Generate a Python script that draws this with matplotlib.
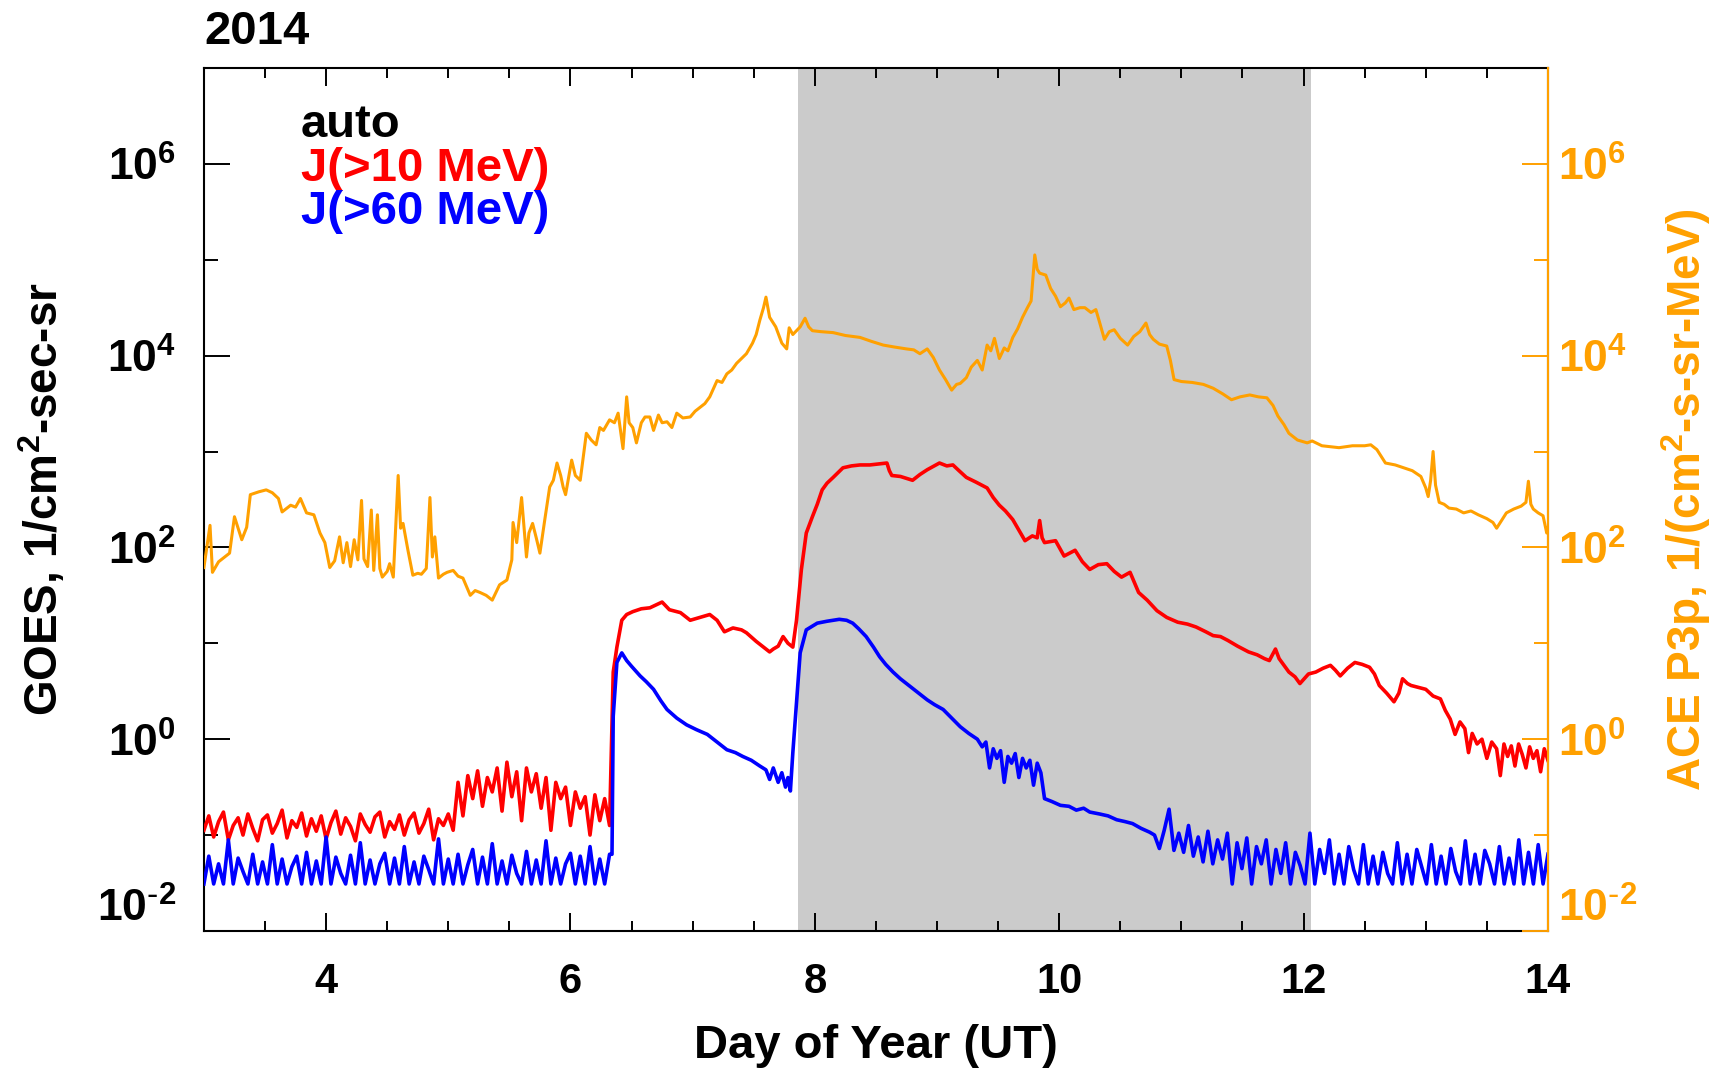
import numpy as np
import matplotlib
matplotlib.use('Agg')
import matplotlib.pyplot as plt
from matplotlib.ticker import FixedLocator, FixedFormatter, MultipleLocator, NullFormatter

plt.rcParams['font.family'] = ['Liberation Sans', 'DejaVu Sans']
plt.rcParams['mathtext.default'] = 'regular'

ORANGE = '#ffa000'

year = '2014'
shade_start, shade_end = 7.86, 12.06

# ACE P3p (right axis), log10 of flux
ace_day = [3.00, 3.05, 3.07, 3.12, 3.16, 3.21, 3.25, 3.31, 3.35, 3.38, 3.45, 3.51, 3.56, 3.61, 3.64,
           3.71, 3.75, 3.79, 3.84, 3.90, 3.95, 3.99, 4.03, 4.07, 4.11, 4.14, 4.17, 4.20, 4.23, 4.26,
           4.29, 4.31, 4.34, 4.37, 4.39, 4.42, 4.44, 4.46, 4.50, 4.52, 4.55, 4.59, 4.61, 4.63, 4.67,
           4.71, 4.75, 4.78, 4.82, 4.85, 4.87, 4.89, 4.92, 4.96, 4.99, 5.04, 5.08, 5.12, 5.18, 5.22,
           5.26, 5.31, 5.36, 5.42, 5.48, 5.52, 5.53, 5.56, 5.60, 5.64, 5.66, 5.69, 5.72, 5.75, 5.79,
           5.83, 5.86, 5.89, 5.92, 5.94, 5.96, 6.01, 6.04, 6.08, 6.13, 6.17, 6.21, 6.24, 6.27, 6.32,
           6.36, 6.39, 6.43, 6.46, 6.48, 6.51, 6.54, 6.58, 6.61, 6.65, 6.68, 6.72, 6.75, 6.79, 6.83,
           6.87, 6.92, 6.98, 7.02, 7.06, 7.10, 7.14, 7.20, 7.24, 7.28, 7.32, 7.36, 7.40, 7.44, 7.49,
           7.52, 7.55, 7.58, 7.60, 7.63, 7.68, 7.73, 7.77, 7.79, 7.82, 7.85, 7.88, 7.92, 7.95, 7.98,
           8.05, 8.15, 8.25, 8.37, 8.46, 8.56, 8.65, 8.75, 8.81, 8.86, 8.92, 8.97, 9.02, 9.07, 9.12,
           9.16, 9.19, 9.24, 9.28, 9.33, 9.37, 9.41, 9.44, 9.47, 9.51, 9.55, 9.58, 9.62, 9.66, 9.70,
           9.74, 9.77, 9.80, 9.82, 9.84, 9.89, 9.93, 9.97, 10.01, 10.05, 10.08, 10.12, 10.17, 10.21, 10.26,
           10.30, 10.33, 10.37, 10.41, 10.45, 10.50, 10.56, 10.61, 10.66, 10.71, 10.74, 10.77, 10.82, 10.88, 10.91,
           10.94, 11.00, 11.09, 11.18, 11.26, 11.34, 11.41, 11.48, 11.56, 11.63, 11.70, 11.75, 11.79, 11.84, 11.88,
           11.95, 12.03, 12.07, 12.15, 12.22, 12.29, 12.40, 12.50, 12.55, 12.60, 12.67, 12.75, 12.82, 12.89, 12.96,
           13.00, 13.02, 13.04, 13.06, 13.08, 13.11, 13.15, 13.19, 13.25, 13.31, 13.37, 13.43, 13.50, 13.55, 13.58,
           13.62, 13.66, 13.72, 13.78, 13.82, 13.84, 13.86, 13.88, 13.92, 13.96, 13.99, 14.00]
ace_log = [1.79, 2.23, 1.74, 1.85, 1.89, 1.94, 2.32, 2.08, 2.21, 2.55, 2.58, 2.60, 2.57, 2.51, 2.37,
           2.44, 2.42, 2.51, 2.36, 2.34, 2.15, 2.05, 1.79, 1.86, 2.11, 1.84, 2.05, 1.80, 2.08, 1.87,
           2.49, 1.88, 1.80, 2.39, 1.76, 2.34, 1.78, 1.69, 1.75, 1.83, 1.69, 2.75, 2.20, 2.25, 1.97,
           1.71, 1.73, 1.72, 1.78, 2.52, 1.90, 2.11, 1.68, 1.72, 1.74, 1.76, 1.70, 1.68, 1.50, 1.55,
           1.53, 1.50, 1.45, 1.61, 1.66, 1.87, 2.26, 2.05, 2.52, 1.90, 2.15, 2.25, 2.10, 1.94, 2.29,
           2.63, 2.70, 2.88, 2.75, 2.63, 2.55, 2.91, 2.75, 2.70, 3.19, 3.12, 3.07, 3.25, 3.22, 3.33,
           3.30, 3.40, 3.03, 3.57, 3.30, 3.25, 3.09, 3.30, 3.36, 3.36, 3.22, 3.38, 3.30, 3.31, 3.25,
           3.40, 3.35, 3.36, 3.42, 3.46, 3.50, 3.57, 3.74, 3.72, 3.81, 3.85, 3.92, 3.97, 4.02, 4.13,
           4.22, 4.37, 4.50, 4.61, 4.40, 4.30, 4.13, 4.07, 4.29, 4.22, 4.26, 4.30, 4.39, 4.30, 4.26,
           4.25, 4.24, 4.21, 4.19, 4.15, 4.11, 4.09, 4.07, 4.06, 4.02, 4.07, 3.98, 3.85, 3.75, 3.64,
           3.70, 3.71, 3.77, 3.88, 3.95, 3.85, 4.11, 4.05, 4.18, 3.97, 4.08, 4.05, 4.19, 4.28, 4.40,
           4.50, 4.57, 5.05, 4.90, 4.86, 4.84, 4.70, 4.62, 4.51, 4.55, 4.60, 4.48, 4.50, 4.50, 4.45,
           4.48, 4.35, 4.17, 4.25, 4.27, 4.18, 4.11, 4.20, 4.25, 4.34, 4.22, 4.17, 4.12, 4.10, 3.95,
           3.75, 3.73, 3.72, 3.70, 3.66, 3.60, 3.54, 3.57, 3.59, 3.57, 3.56, 3.48, 3.37, 3.28, 3.19,
           3.12, 3.09, 3.11, 3.06, 3.05, 3.04, 3.06, 3.06, 3.07, 3.02, 2.88, 2.86, 2.83, 2.80, 2.74,
           2.62, 2.53, 2.70, 3.00, 2.65, 2.47, 2.45, 2.41, 2.40, 2.36, 2.38, 2.34, 2.30, 2.26, 2.20,
           2.28, 2.36, 2.40, 2.43, 2.47, 2.69, 2.45, 2.40, 2.36, 2.33, 2.15, 2.20]

# GOES J(>10 MeV), log10 of flux
j10_quiet = [-0.95, -0.80, -1.02, -0.86, -0.76, -1.05, -0.90, -0.82, -1.00, -0.78, -0.93, -1.06, -0.84,
             -0.79, -0.98, -0.88, -0.74, -1.03, -0.85, -0.92, -0.77, -1.01, -0.83, -0.96, -0.80, -1.04,
             -0.87, -0.75, -0.99, -0.82, -0.91, -1.06, -0.78, -0.89, -0.97, -0.81, -0.76, -1.02, -0.86,
             -0.94, -0.79, -1.00, -0.84, -0.77, -0.98, -0.88, -0.73, -1.05, -0.83, -0.90, -0.78, -0.95]
j10_hump = [-0.45, -0.80, -0.38, -0.62, -0.33, -0.70, -0.40, -0.55, -0.30, -0.75, -0.24, -0.60, -0.34,
            -0.85, -0.30, -0.55, -0.36, -0.72, -0.40, -0.95, -0.45, -0.62, -0.50, -0.90, -0.55, -0.72,
            -0.60, -1.00, -0.58, -0.85, -0.62, -0.90]
j10_day = [6.35, 6.38, 6.42, 6.46, 6.51, 6.58, 6.65, 6.70, 6.75, 6.81, 6.90, 6.98, 7.06, 7.14, 7.20,
           7.26, 7.33, 7.40, 7.44, 7.52, 7.58, 7.63, 7.66, 7.70, 7.74, 7.78, 7.82, 7.85, 7.89, 7.93,
           7.98, 8.02, 8.06, 8.10, 8.15, 8.23, 8.30, 8.37, 8.45, 8.52, 8.59, 8.61, 8.63, 8.70, 8.80,
           8.86, 8.92, 9.02, 9.08, 9.13, 9.18, 9.24, 9.32, 9.41, 9.46, 9.51, 9.56, 9.62, 9.67, 9.72,
           9.78, 9.82, 9.84, 9.86, 9.88, 9.97, 10.04, 10.13, 10.19, 10.25, 10.32, 10.39, 10.45, 10.51, 10.58,
           10.65, 10.72, 10.80, 10.88, 10.97, 11.05, 11.12, 11.20, 11.26, 11.32, 11.38, 11.46, 11.55, 11.62, 11.68,
           11.72, 11.77, 11.80, 11.84, 11.88, 11.93, 11.97, 12.04, 12.10, 12.16, 12.22, 12.26, 12.30, 12.36, 12.42,
           12.48, 12.54, 12.58, 12.62, 12.68, 12.74, 12.78, 12.81, 12.85, 12.88, 12.94, 13.00, 13.06, 13.12, 13.16,
           13.20, 13.24, 13.28, 13.32, 13.35, 13.38, 13.42, 13.46, 13.50, 13.54, 13.58, 13.61, 13.64, 13.67, 13.70,
           13.73, 13.76, 13.79, 13.82, 13.85, 13.88, 13.91, 13.94, 13.97, 14.00]
j10_log = [0.70, 0.96, 1.24, 1.30, 1.33, 1.36, 1.37, 1.40, 1.43, 1.35, 1.32, 1.24, 1.27, 1.30, 1.24,
           1.12, 1.16, 1.14, 1.11, 1.02, 0.96, 0.91, 0.94, 0.97, 1.07, 1.00, 0.96, 1.24, 1.77, 2.15,
           2.32, 2.45, 2.60, 2.67, 2.73, 2.83, 2.85, 2.86, 2.86, 2.87, 2.88, 2.80, 2.75, 2.74, 2.70,
           2.76, 2.81, 2.88, 2.85, 2.86, 2.80, 2.73, 2.68, 2.62, 2.52, 2.44, 2.38, 2.29, 2.18, 2.07,
           2.12, 2.10, 2.28, 2.10, 2.05, 2.07, 1.91, 1.97, 1.85, 1.77, 1.82, 1.83, 1.75, 1.69, 1.74,
           1.53, 1.45, 1.34, 1.27, 1.22, 1.20, 1.17, 1.12, 1.08, 1.07, 1.03, 0.97, 0.91, 0.88, 0.84,
           0.82, 0.94, 0.84, 0.77, 0.70, 0.65, 0.58, 0.68, 0.70, 0.74, 0.77, 0.72, 0.66, 0.74, 0.80,
           0.78, 0.75, 0.68, 0.56, 0.48, 0.39, 0.48, 0.63, 0.58, 0.56, 0.54, 0.52, 0.45, 0.42, 0.30,
           0.21, 0.05, 0.18, 0.11, -0.14, 0.06, -0.05, 0.00, -0.20, -0.03, -0.10, -0.38, -0.05, -0.18, -0.07,
           -0.28, -0.05, -0.16, -0.30, -0.08, -0.20, -0.12, -0.34, -0.10, -0.22]

# GOES J(>60 MeV), log10 of flux
j60_quiet = [-1.51, -1.22, -1.51, -1.30, -1.51, -1.05, -1.51, -1.24, -1.38, -1.51, -1.20, -1.51, -1.28, -1.51,
             -1.10, -1.51, -1.25, -1.51, -1.33, -1.22, -1.51, -1.18, -1.51, -1.27, -1.51, -1.02, -1.51, -1.23,
             -1.40, -1.51, -1.21, -1.51, -1.08, -1.51, -1.26, -1.51, -1.30, -1.19, -1.51, -1.24, -1.51, -1.12,
             -1.51, -1.28, -1.51, -1.22, -1.36, -1.51, -1.04, -1.51, -1.25, -1.51, -1.20, -1.51, -1.31, -1.15,
             -1.51, -1.23, -1.51, -1.09, -1.51, -1.27, -1.51, -1.21, -1.40, -1.51, -1.17, -1.51, -1.26, -1.51,
             -1.06, -1.51, -1.24, -1.51, -1.30, -1.19, -1.51, -1.22, -1.51, -1.12, -1.51, -1.25, -1.51, -1.20]
j60_day = [6.34, 6.35, 6.38, 6.42, 6.46, 6.50, 6.57, 6.62, 6.68, 6.74, 6.79, 6.87, 6.95, 7.03, 7.12,
           7.20, 7.28, 7.35, 7.41, 7.48, 7.55, 7.60, 7.63, 7.66, 7.70, 7.73, 7.76, 7.78, 7.80, 7.82,
           7.85, 7.88, 7.93, 8.02, 8.10, 8.20, 8.26, 8.31, 8.36, 8.42, 8.48, 8.53, 8.58, 8.64, 8.70,
           8.78, 8.85, 8.92, 8.98, 9.05, 9.12, 9.19, 9.26, 9.33, 9.37, 9.40, 9.43, 9.46, 9.49, 9.52,
           9.55, 9.58, 9.61, 9.64, 9.67, 9.70, 9.73, 9.76, 9.79, 9.82, 9.85, 9.88, 9.94, 10.01, 10.08,
           10.14, 10.20, 10.25, 10.33, 10.40, 10.47, 10.54, 10.60, 10.67, 10.74]
j60_log = [-1.20, 0.24, 0.80, 0.90, 0.82, 0.76, 0.66, 0.60, 0.52, 0.40, 0.31, 0.22, 0.15, 0.10, 0.05,
           -0.03, -0.11, -0.14, -0.18, -0.22, -0.28, -0.32, -0.42, -0.30, -0.45, -0.35, -0.50, -0.40, -0.54, -0.14,
           0.38, 0.90, 1.14, 1.21, 1.23, 1.25, 1.24, 1.21, 1.15, 1.07, 0.96, 0.86, 0.78, 0.70, 0.63,
           0.55, 0.48, 0.41, 0.36, 0.31, 0.22, 0.13, 0.06, 0.00, -0.08, -0.03, -0.30, -0.10, -0.20, -0.12,
           -0.45, -0.18, -0.25, -0.15, -0.40, -0.20, -0.30, -0.22, -0.48, -0.25, -0.35, -0.62, -0.65, -0.69, -0.70,
           -0.74, -0.72, -0.76, -0.78, -0.80, -0.84, -0.86, -0.88, -0.93, -0.97]
j60_late = [-1.00, -1.14, -0.95, -0.73, -1.16, -0.98, -1.18, -0.90, -1.22, -1.02, -1.28, -0.96, -1.30, -1.05,
            -1.25, -0.98, -1.51, -1.08, -1.35, -1.03, -1.51, -1.12, -1.30, -1.05, -1.51, -1.15, -1.40, -1.08,
            -1.51, -1.18, -1.32, -1.51, -0.98, -1.51, -1.15, -1.40, -1.05, -1.51, -1.20, -1.51, -1.12, -1.36,
            -1.51, -1.10, -1.51, -1.22, -1.51, -1.18, -1.40, -1.51, -1.08, -1.51, -1.20, -1.51, -1.15, -1.33,
            -1.51, -1.10, -1.51, -1.22, -1.51, -1.14, -1.38, -1.51, -1.06, -1.51, -1.20, -1.51, -1.16, -1.30,
            -1.51, -1.12, -1.51, -1.24, -1.51, -1.05, -1.51, -1.18, -1.51, -1.10, -1.51, -1.20]

# assemble time series
ace_t = np.array(ace_day)
ace_v = 10 ** np.array(ace_log)

j10_t = np.concatenate([np.linspace(3.00, 5.04, len(j10_quiet)),
                        np.linspace(5.08, 6.32, len(j10_hump)), j10_day])
j10_v = 10 ** np.concatenate([j10_quiet, j10_hump, j10_log])

j60_t = np.concatenate([np.linspace(3.00, 6.32, len(j60_quiet)), j60_day,
                        np.linspace(10.78, 14.00, len(j60_late))])
j60_v = 10 ** np.concatenate([j60_quiet, j60_log, j60_late])

fig = plt.figure(figsize=(17.28, 10.77), dpi=100)
ax = fig.add_axes([0.118, 0.1356, 0.7778, 0.8013])

ax.axvspan(shade_start, shade_end, color='#cbcbcb', lw=0, zorder=0)
ax.plot(j10_t, j10_v, color='#ff0000', lw=2.6, zorder=3)
ax.plot(j60_t, j60_v, color='#0000ff', lw=2.6, zorder=4)

ylo, yhi = 1e-2, 1e7
major_y = [1e-2, 1e0, 1e2, 1e4, 1e6]
minor_y = [1e-1, 1e1, 1e3, 1e5]
ylabels = [r'$10^{\text{-}2}$', r'$10^{0}$', r'$10^{2}$', r'$10^{4}$', r'$10^{6}$']

ax.set_xlim(3, 14)
ax.set_yscale('log')
ax.set_ylim(ylo, yhi)
ax.xaxis.set_major_locator(MultipleLocator(2))
ax.xaxis.set_minor_locator(MultipleLocator(0.5))
ax.yaxis.set_major_locator(FixedLocator(major_y))
ax.yaxis.set_major_formatter(FixedFormatter(ylabels))
ax.yaxis.set_minor_locator(FixedLocator(minor_y))
ax.yaxis.set_minor_formatter(NullFormatter())

ax.tick_params(axis='x', which='major', direction='in', length=13, width=1.4, top=True,
               labelsize=30, pad=22)
ax.tick_params(axis='x', which='minor', direction='in', length=7, width=1.4, top=True)
ax.tick_params(axis='y', which='major', direction='in', length=19, width=1.4, right=False,
               labelsize=32, pad=20)
ax.tick_params(axis='y', which='minor', direction='in', length=10, width=1.4, right=False)
for lab in ax.get_xticklabels() + ax.get_yticklabels():
    lab.set_fontweight('bold')
for sp in ax.spines.values():
    sp.set_linewidth(1.5)

ax.set_xlabel('Day of Year (UT)', fontsize=34, fontweight='bold')
ax.xaxis.set_label_coords(0.5, -0.108)
ax.set_ylabel(r'GOES, 1/cm$^{2}$-sec-sr', fontsize=33, fontweight='bold')
ax.yaxis.set_label_coords(-0.101, 0.5)

# right axis, ACE
ax2 = ax.twinx()
ax2.plot(ace_t, ace_v, color=ORANGE, lw=2.2)
ax2.set_yscale('log')
ax2.set_ylim(ylo, yhi)
ax2.yaxis.set_major_locator(FixedLocator(major_y))
ax2.yaxis.set_major_formatter(FixedFormatter(ylabels))
ax2.yaxis.set_minor_locator(FixedLocator(minor_y))
ax2.yaxis.set_minor_formatter(NullFormatter())
ax2.tick_params(axis='y', which='major', direction='in', length=19, width=1.4, colors=ORANGE,
                labelsize=32, pad=7)
ax2.tick_params(axis='y', which='minor', direction='in', length=10, width=1.4, colors=ORANGE)
for lab in ax2.get_yticklabels():
    lab.set_fontweight('bold')
for name in ['left', 'top', 'bottom']:
    ax2.spines[name].set_visible(False)
ax2.spines['right'].set_color(ORANGE)
ax2.spines['right'].set_linewidth(1.5)
ax2.set_ylabel(r'ACE P3p, 1/(cm$^{2}$-s-sr-MeV)', fontsize=33, fontweight='bold', color=ORANGE)
ax2.yaxis.set_label_coords(1.083, 0.5)

# lift the lowest tick labels off the bottom edge
ax.get_yticklabels()[0].set_va('bottom')
ax2.get_yticklabels()[0].set_va('bottom')

fig.text(0.118, 0.959, year, fontsize=34, fontweight='bold')
fig.text(0.174, 0.8728, 'auto', fontsize=34, fontweight='bold', color='black')
fig.text(0.174, 0.8319, 'J(>10 MeV)', fontsize=34, fontweight='bold', color='#ff0000')
fig.text(0.174, 0.7920, 'J(>60 MeV)', fontsize=34, fontweight='bold', color='#0000ff')

fig.savefig('out.png', dpi=100)
